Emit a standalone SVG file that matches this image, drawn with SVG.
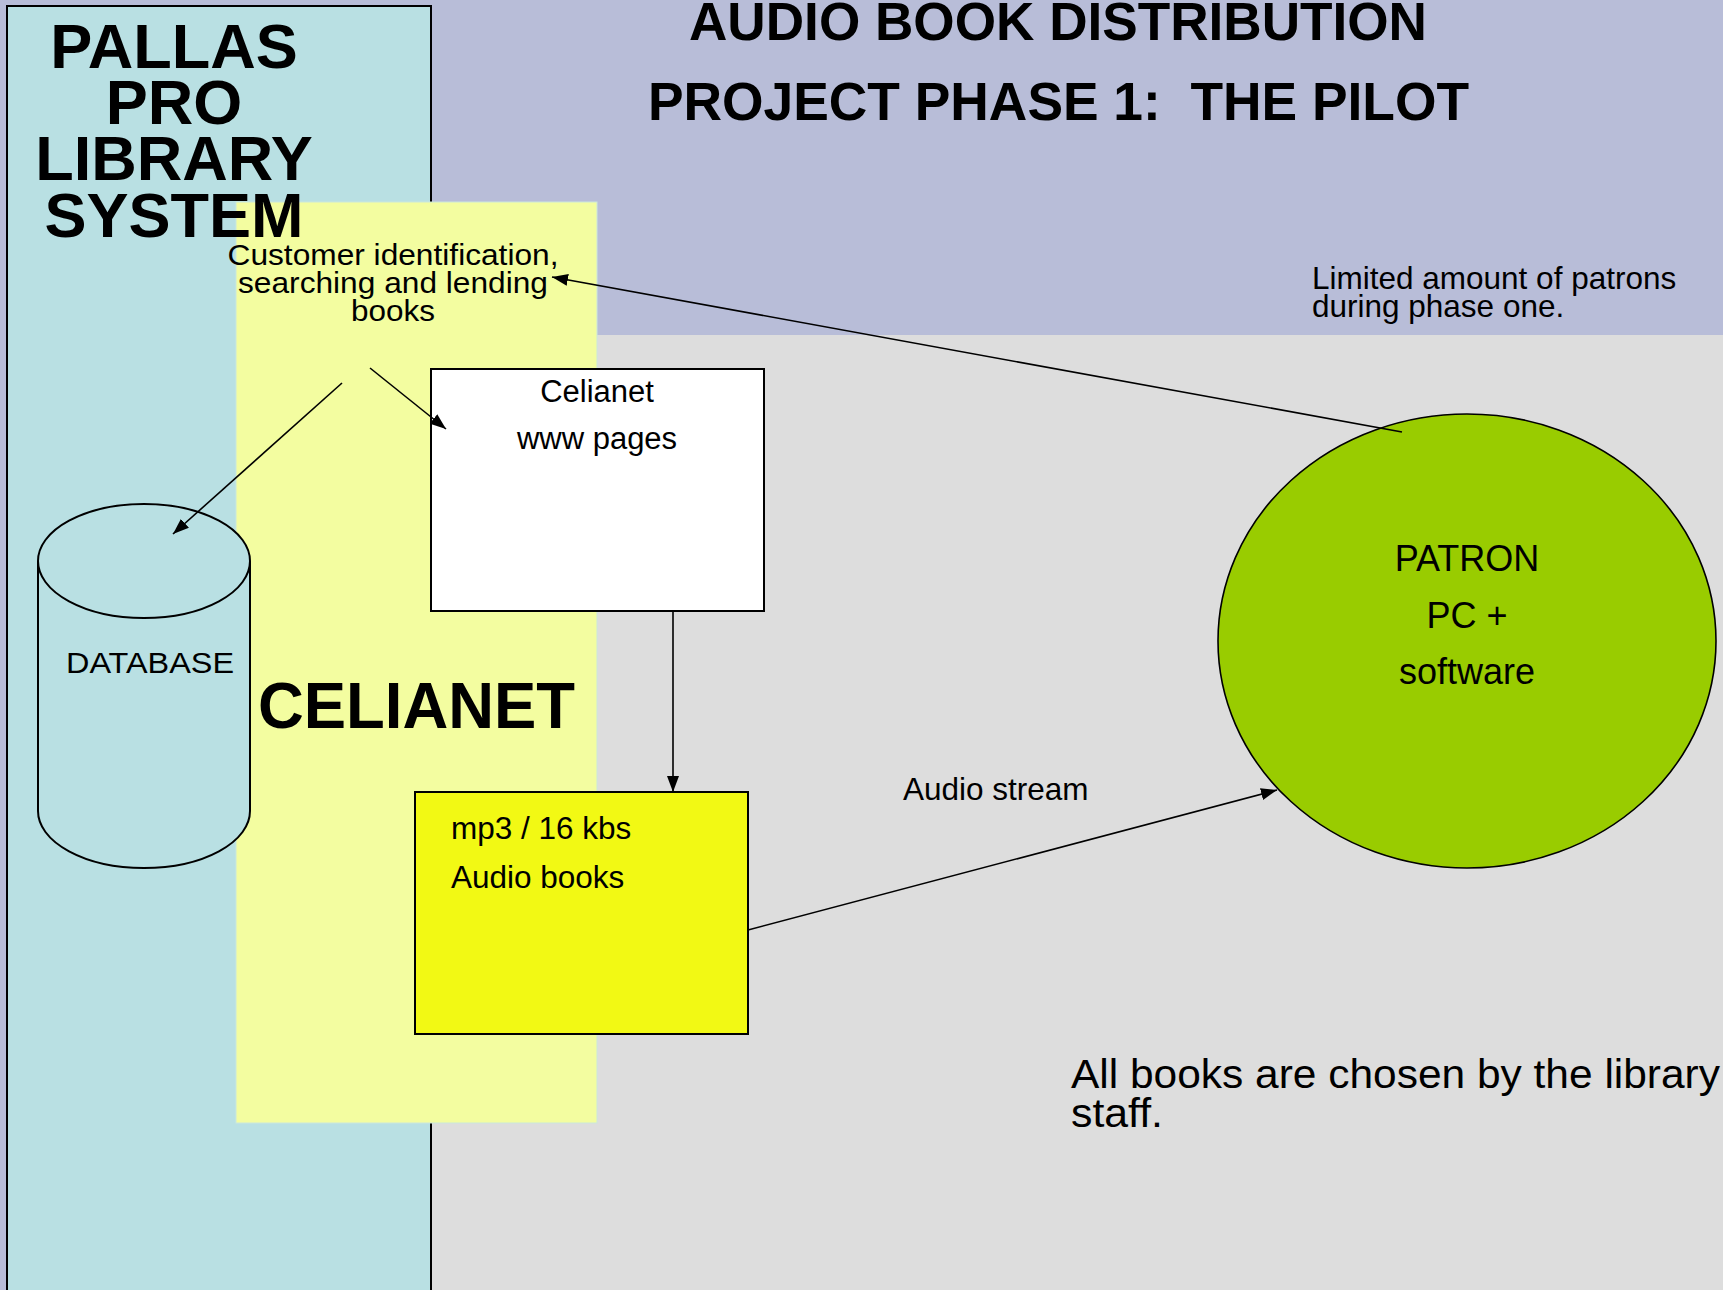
<svg xmlns="http://www.w3.org/2000/svg" width="1723" height="1290" viewBox="0 0 1723 1290">
<defs>
<style>
text{font-family:"Liberation Sans",Arial,sans-serif;fill:#000}
.b{font-weight:bold}
.ln{fill:none;stroke:#000;stroke-width:1.6}
.box{stroke:#000;stroke-width:2}
</style>
<marker id="ah" viewBox="0 0 16 12" markerUnits="userSpaceOnUse" markerWidth="16" markerHeight="12" refX="16" refY="6" orient="auto">
<path d="M0,0 L16,6 L0,12 z" fill="#000"/>
</marker>
</defs>
<rect x="0" y="0" width="1723" height="1290" fill="#B8BDD8"/>
<rect x="400" y="335" width="1323" height="955" fill="#DDDDDD"/>
<g id="pallas">
<rect x="7" y="6" width="424" height="1300" fill="#B9E0E3" stroke="#000" stroke-width="2"/>
</g>
<g id="celianet-panel">
<rect x="236" y="202" width="361" height="921" fill="#F3FDA0" stroke="#CBE7DC" stroke-width="1"/>
</g>
<g id="pallas-title">
<text class="b" font-size="63" text-anchor="middle"><tspan x="174" y="68">PALLAS</tspan><tspan x="174" y="124">PRO</tspan><tspan x="174" y="180">LIBRARY</tspan><tspan x="174" y="237">SYSTEM</tspan></text>
</g>
<g id="title">
<text class="b" font-size="53" x="689" y="40" textLength="738" lengthAdjust="spacingAndGlyphs">AUDIO BOOK DISTRIBUTION</text>
<text class="b" font-size="53" x="648" y="120" textLength="821" lengthAdjust="spacingAndGlyphs" xml:space="preserve">PROJECT PHASE 1:  THE PILOT</text>
</g>
<g id="customer">
<text font-size="30" text-anchor="middle" x="393" y="265" textLength="331" lengthAdjust="spacingAndGlyphs">Customer identification,</text>
<text font-size="30" text-anchor="middle" x="393" y="293" textLength="310" lengthAdjust="spacingAndGlyphs">searching and lending</text>
<text font-size="30" text-anchor="middle" x="393" y="321" textLength="84" lengthAdjust="spacingAndGlyphs">books</text>
</g>
<g id="database">
<path d="M38,561 L38,811 A106,57 0 0 0 250,811 L250,561" fill="#B9E0E3" stroke="#000" stroke-width="2"/>
<ellipse cx="144" cy="561" rx="106" ry="57" fill="#B9E0E3" stroke="#000" stroke-width="2"/>
<text font-size="30" x="66" y="673" textLength="168" lengthAdjust="spacingAndGlyphs">DATABASE</text>
</g>
<g id="celianet-label">
<text class="b" font-size="65" x="258" y="728" textLength="317" lengthAdjust="spacingAndGlyphs">CELIANET</text>
</g>
<g id="www">
<rect class="box" x="431" y="369" width="333" height="242" fill="#FFFFFF"/>
<text font-size="31" text-anchor="middle" x="597" y="402">Celianet</text>
<text font-size="31" text-anchor="middle" x="597" y="449">www pages</text>
</g>
<g id="audiobooks">
<rect class="box" x="415" y="792" width="333" height="242" fill="#F2F914"/>
<text font-size="31.5" x="451" y="839">mp3 / 16 kbs</text>
<text font-size="31.5" x="451" y="888">Audio books</text>
</g>
<g id="patron">
<ellipse cx="1467" cy="641" rx="249" ry="227" fill="#99CC00" stroke="#000" stroke-width="1.6"/>
<text font-size="36" text-anchor="middle" x="1467" y="571">PATRON</text>
<text font-size="36" text-anchor="middle" x="1467" y="628">PC +</text>
<text font-size="36" text-anchor="middle" x="1467" y="684">software</text>
</g>
<g id="notes">
<text font-size="31.5" x="1312" y="289">Limited amount of patrons</text>
<text font-size="31.5" x="1312" y="317">during phase one.</text>
<text font-size="40" x="1071" y="1088" textLength="649" lengthAdjust="spacingAndGlyphs">All books are chosen by the library</text>
<text font-size="40" x="1071" y="1127" textLength="92" lengthAdjust="spacingAndGlyphs">staff.</text>
</g>
<g id="connectors">
<line class="ln" x1="1402" y1="432" x2="552" y2="277" marker-end="url(#ah)"/>
<line class="ln" x1="370" y1="368" x2="446" y2="429" marker-end="url(#ah)"/>
<line class="ln" x1="342" y1="383" x2="173" y2="534" marker-end="url(#ah)"/>
<line class="ln" x1="673" y1="611" x2="673" y2="792" marker-end="url(#ah)"/>
<line class="ln" x1="748" y1="930" x2="1277" y2="790" marker-end="url(#ah)"/>
<text font-size="31.5" x="903" y="800">Audio stream</text>
</g>
</svg>
